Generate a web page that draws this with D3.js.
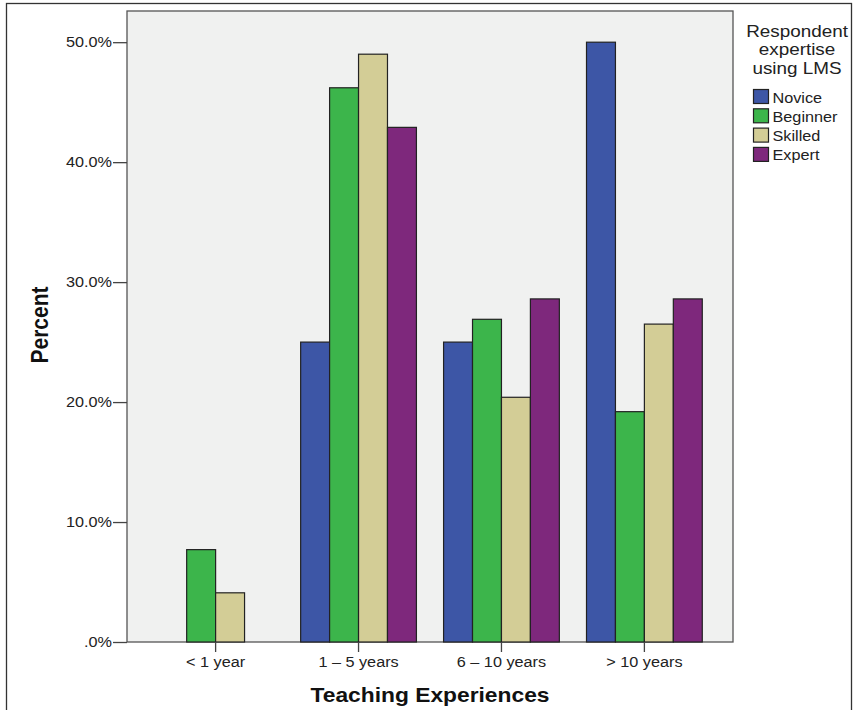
<!DOCTYPE html>
<html>
<head>
<meta charset="utf-8">
<script src="https://cdn.jsdelivr.net/npm/d3@7"></script>
<style>
  body { margin: 0; background: #fff; }
  svg { display: block; font-family: Arial, "Liberation Sans", sans-serif; }
</style>
</head>
<body>
<svg id="chart" width="853" height="710"></svg>
<script>
// 데이터: 교직 경력별, LMS 숙련도별 비율(%)
const categories = ['< 1 year', '1 – 5 years', '6 – 10 years', '> 10 years'];
const seriesNames = ['Novice', 'Beginner', 'Skilled', 'Expert'];
const seriesColors = ['#3d56a6', '#3cb54b', '#d3cd96', '#7e287c'];
const novice   = [0, 25.0, 25.0, 50.0];
const beginner = [7.7, 46.2, 26.9, 19.2];
const skilled  = [4.1, 49.0, 20.4, 26.5];
const expert   = [0, 42.9, 28.6, 28.6];
const yTicks = [0, 10, 20, 30, 40, 50];
const legendTitle = ['Respondent', 'expertise', 'using LMS'];

const seriesValues = [novice, beginner, skilled, expert];
const FONT = 'Arial, "Liberation Sans", sans-serif';
const STRETCH = 1.16; // 원본 이미지의 가로 늘어남 보정

// 텍스트를 가로로 살짝 늘리는 헬퍼 (x,y를 transform으로 옮김)
function stretchText(sel, s) {
  sel.each(function() {
    const t = d3.select(this);
    const tx = +t.attr('x') || 0;
    const ty = +t.attr('y') || 0;
    t.attr('x', 0).attr('y', 0)
      .attr('transform', `translate(${tx},${ty}) scale(${s},1)`);
  });
}

const svg = d3.select('#chart');

// 바깥 테두리
svg.append('rect')
  .attr('x', 6.5).attr('y', 3.5)
  .attr('width', 845).attr('height', 720)
  .attr('fill', 'none')
  .attr('stroke', '#333')
  .attr('stroke-width', 1.3);

const plot = { left: 127, top: 11, right: 733, bottom: 642 };

const x = d3.scaleBand()
  .domain(categories)
  .range([plot.left, plot.right])
  .paddingInner(0)
  .paddingOuter(0.12);

const xInner = d3.scaleBand()
  .domain(seriesNames)
  .range([0, x.bandwidth() * 0.81])
  .padding(0);

const y = d3.scaleLinear()
  .domain([0, 52.6])
  .range([plot.bottom, plot.top]);

// 플롯 배경
svg.append('rect')
  .attr('x', plot.left).attr('y', plot.top)
  .attr('width', plot.right - plot.left)
  .attr('height', plot.bottom - plot.top)
  .attr('fill', '#f0f1f0')
  .attr('stroke', '#555')
  .attr('stroke-width', 1.3);

// 막대
const groupOffset = (x.bandwidth() - xInner.range()[1]) / 2;
categories.forEach((cat, ci) => {
  seriesNames.forEach((s, si) => {
    const v = seriesValues[si][ci];
    if (!v) return; // 값이 0이면 막대 없음
    svg.append('rect')
      .attr('x', x(cat) + groupOffset + xInner(s))
      .attr('y', y(v))
      .attr('width', xInner.bandwidth())
      .attr('height', y(0) - y(v))
      .attr('fill', seriesColors[si])
      .attr('stroke', '#222')
      .attr('stroke-width', 1.2);
  });
});

// Y축
const yAxis = svg.append('g')
  .attr('transform', `translate(${plot.left},0)`)
  .call(d3.axisLeft(y)
    .tickValues(yTicks)
    .tickSize(14)
    .tickPadding(1)
    .tickFormat(d => d === 0 ? '.0%' : d3.format('.1f')(d) + '%'));
yAxis.select('.domain').remove();
yAxis.selectAll('line').attr('stroke', '#444').attr('stroke-width', 1.3);
yAxis.selectAll('text').attr('font-size', 14).attr('fill', '#222')
  .attr('font-family', FONT)
  .call(stretchText, STRETCH);

// X축
const xAxis = svg.append('g')
  .attr('transform', `translate(0,${plot.bottom})`)
  .call(d3.axisBottom(x).tickSize(10).tickPadding(5));
xAxis.select('.domain').remove();
xAxis.selectAll('line').attr('stroke', '#444').attr('stroke-width', 1.3);
xAxis.selectAll('text').attr('font-size', 14).attr('fill', '#222')
  .attr('font-family', FONT)
  .call(stretchText, STRETCH);

// 축 제목
svg.append('text')
  .attr('x', 430).attr('y', 702)
  .attr('text-anchor', 'middle')
  .attr('font-size', 20).attr('font-weight', 'bold')
  .attr('fill', '#111')
  .text('Teaching Experiences')
  .call(stretchText, 1.14);

svg.append('text')
  .attr('transform', 'translate(48,325) scale(1.1,1) rotate(-90)')
  .attr('text-anchor', 'middle')
  .attr('font-size', 21).attr('font-weight', 'bold')
  .attr('fill', '#111')
  .text('Percent');

// 범례
const legend = svg.append('g');
legend.selectAll('text.title')
  .data(legendTitle)
  .enter().append('text')
  .attr('class', 'title')
  .attr('x', 797)
  .attr('y', (d, i) => 37 + i * 18.3)
  .attr('text-anchor', 'middle')
  .attr('font-size', 16)
  .attr('fill', '#222')
  .text(d => d)
  .call(stretchText, 1.18);

const items = legend.selectAll('g.item')
  .data(seriesNames)
  .enter().append('g')
  .attr('class', 'item')
  .attr('transform', (d, i) => `translate(753.5,${89.5 + i * 19.3})`);
items.append('rect')
  .attr('width', 15).attr('height', 14)
  .attr('fill', (d, i) => seriesColors[i])
  .attr('stroke', '#222')
  .attr('stroke-width', 1.2);
items.append('text')
  .attr('x', 19).attr('y', 13)
  .attr('font-size', 14)
  .attr('fill', '#222')
  .text(d => d)
  .call(stretchText, STRETCH);
</script>
</body>
</html>
